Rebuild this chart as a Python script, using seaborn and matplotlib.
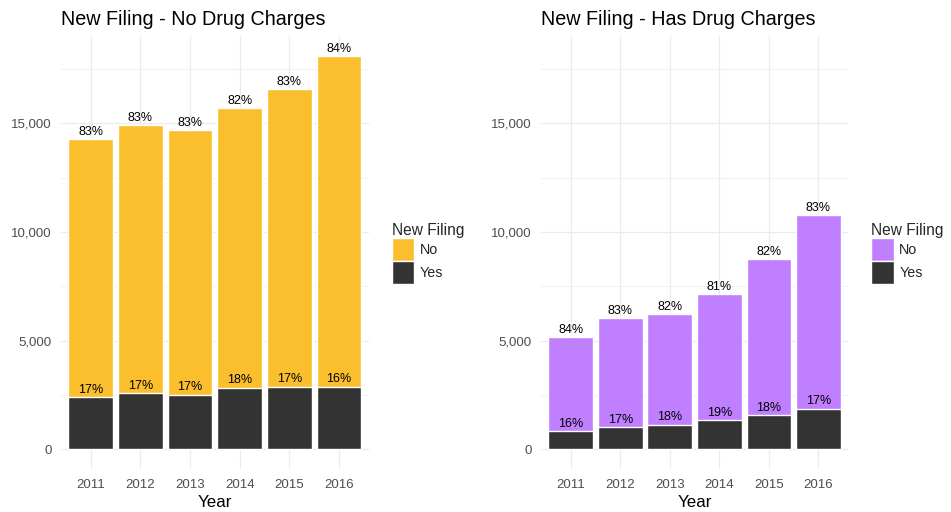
import matplotlib
matplotlib.use('Agg')
import matplotlib.pyplot as plt
import seaborn as sns
import pandas as pd
from matplotlib.patches import Patch
from matplotlib.ticker import MultipleLocator, FuncFormatter

# данные
years = ['2011', '2012', '2013', '2014', '2015', '2016']

no_drug_no = [11880, 12310, 12150, 12850, 13680, 15210]
no_drug_yes = [2390, 2590, 2520, 2830, 2880, 2880]
no_drug_no_lbl = ['83%', '83%', '83%', '82%', '83%', '84%']
no_drug_yes_lbl = ['17%', '17%', '17%', '18%', '17%', '16%']

drug_no = [4310, 5000, 5080, 5800, 7190, 8900]
drug_yes = [840, 1030, 1130, 1330, 1560, 1860]
drug_no_lbl = ['84%', '83%', '82%', '81%', '82%', '83%']
drug_yes_lbl = ['16%', '17%', '18%', '19%', '18%', '17%']

yellow = '#FBBF2E'
purple = '#BF7FFF'
dark = '#333333'

sns.set_theme(style='white')
plt.rcParams['font.family'] = ['Liberation Sans', 'DejaVu Sans']

fig = plt.figure(figsize=(9.51, 5.12), dpi=100)
ax1 = fig.add_axes([0.064, 0.084, 0.3238, 0.845])
ax2 = fig.add_axes([0.5689, 0.084, 0.3228, 0.845])


def draw_panel(ax, no_vals, yes_vals, no_lbl, yes_lbl, color, title):
    df = pd.DataFrame({'Year': years, 'No': no_vals, 'Yes': yes_vals})
    df['Total'] = df['No'] + df['Yes']
    sns.barplot(data=df, x='Year', y='Total', color=color, width=0.9,
                saturation=1, ax=ax, zorder=3)
    sns.barplot(data=df, x='Year', y='Yes', color=dark, width=0.9,
                saturation=1, ax=ax, zorder=3)
    for i in range(len(years)):
        ax.annotate(no_lbl[i], (i, df['Total'][i]), xytext=(0, 1),
                    textcoords='offset points', ha='center', va='bottom',
                    fontsize=9, color='black', zorder=4)
        ax.annotate(yes_lbl[i], (i, df['Yes'][i]), xytext=(0, 1),
                    textcoords='offset points', ha='center', va='bottom',
                    fontsize=9, color='black', zorder=4)
    ax.set_xlim(-0.6, 5.6)
    ax.set_ylim(-905, 18997)
    ax.yaxis.set_major_locator(MultipleLocator(5000))
    ax.yaxis.set_minor_locator(MultipleLocator(2500))
    ax.yaxis.set_major_formatter(FuncFormatter(lambda v, p: f'{int(v):,}'))
    ax.grid(True, which='major', color='#EBEBEB', linewidth=0.9, zorder=0)
    ax.grid(True, which='minor', axis='y', color='#EBEBEB', linewidth=0.5, zorder=0)
    ax.set_axisbelow(True)
    for s in ax.spines.values():
        s.set_visible(False)
    ax.tick_params(axis='both', which='both', length=0, labelsize=9.5,
                   labelcolor='#4D4D4D')
    ax.tick_params(axis='x', pad=7)
    ax.tick_params(axis='y', pad=6.5)
    ax.set_xlabel('Year', fontsize=12.2, color='black', labelpad=3)
    ax.set_ylabel('')
    ax.set_title(title, loc='left', fontsize=14.2, color='black', pad=8)
    handles = [Patch(facecolor=color, label='No'), Patch(facecolor=dark, label='Yes')]
    pos = ax.get_position()
    ax.legend(handles=handles, title='New Filing', loc='upper left',
              bbox_to_anchor=(pos.x1 + 0.0165, 0.579), bbox_transform=fig.transFigure,
              frameon=False, fontsize=10.3, title_fontsize=11.2,
              handlelength=1.59, handleheight=2.06, labelspacing=0.03,
              handletextpad=0.4, borderpad=0, alignment='left')


draw_panel(ax1, no_drug_no, no_drug_yes, no_drug_no_lbl, no_drug_yes_lbl,
           yellow, 'New Filing - No Drug Charges')
draw_panel(ax2, drug_no, drug_yes, drug_no_lbl, drug_yes_lbl,
           purple, 'New Filing - Has Drug Charges')

fig.savefig('out.png', dpi=100)
